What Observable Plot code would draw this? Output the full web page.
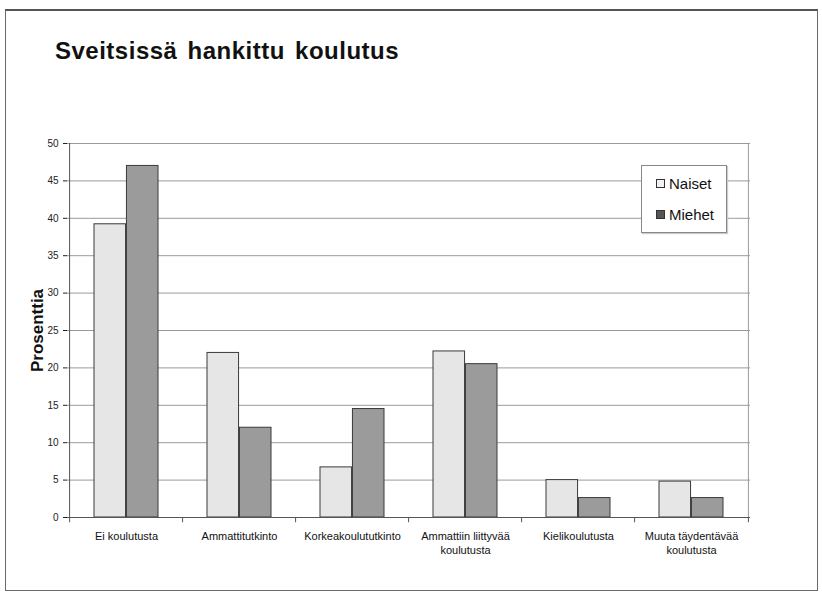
<!DOCTYPE html>
<html>
<head>
<meta charset="utf-8">
<script src="https://cdn.jsdelivr.net/npm/d3@7"></script>
<script src="https://cdn.jsdelivr.net/npm/@observablehq/plot@0.6"></script>
<style>
  body { margin: 0; background: #fff; font-family: "Liberation Sans", Arial, Helvetica, sans-serif; }
  #wrap { position: relative; width: 822px; height: 594px; overflow: hidden; }
  #chart { position: absolute; left: 0; top: 0; }
  #frame { position: absolute; left: 5px; top: 9px; width: 813px; height: 582px; border: 1px solid #6a6a6a; border-top: 2px solid #555; box-sizing: border-box; pointer-events: none; }
  #title { position: absolute; left: 55px; top: 37px; font-size: 24px; font-weight: bold; color: #111; letter-spacing: 0.5px; word-spacing: 3px; white-space: nowrap; }
  #legend { position: absolute; left: 641px; top: 165px; width: 86px; height: 68px; box-sizing: border-box; border: 1px solid #888; background: #fff; box-shadow: 1px 1px 1px #ccc; font-size: 15px; color: #111; }
  .item { position: absolute; left: 14px; display: flex; align-items: center; line-height: 1; }
  .sw { width: 9px; height: 9px; border: 1px solid #333; margin-right: 4px; box-sizing: border-box; }
</style>
</head>
<body>
<div id="wrap">
  <div id="chart"></div>
  <div id="frame"></div>
  <div id="title"></div>
  <div id="legend"></div>
</div>
<script>
// ---- Data ----
const title = "Sveitsissä hankittu koulutus";
const yLabel = "Prosenttia";
const categories = ["Ei koulutusta", "Ammattitutkinto", "Korkeakoulututkinto", "Ammattiin liittyvää koulutusta", "Kielikoulutusta", "Muuta täydentävää koulutusta"];
const categoryLabels = ["Ei koulutusta", "Ammattitutkinto", "Korkeakoulututkinto", "Ammattiin liittyvää\nkoulutusta", "Kielikoulutusta", "Muuta täydentävää\nkoulutusta"];
const seriesNames = ["Naiset", "Miehet"];
const naiset = [39.2, 22.0, 6.7, 22.2, 5.0, 4.8];
const miehet = [47.0, 12.0, 14.5, 20.5, 2.6, 2.6];
const yTicks = [0, 5, 10, 15, 20, 25, 30, 35, 40, 45, 50];
const colors = ["#e6e6e6", "#9b9b9b"];

// ---- Layout ----
const W = 822, H = 594;
const mL = 67, mR = 72, mT = 143, mB = 77;
const padInner = 0.43, padOuter = 0.215;
const step = (W - mL - mR) / (categories.length - padInner + 2 * padOuter);
const bw = step * (1 - padInner);

const rowsN = categories.map((c, i) => ({category: c, value: naiset[i]}));
const rowsM = categories.map((c, i) => ({category: c, value: miehet[i]}));

document.getElementById("title").textContent = title;

const chart = Plot.plot({
  width: W,
  height: H,
  marginLeft: mL,
  marginRight: mR,
  marginTop: mT,
  marginBottom: mB,
  style: {fontFamily: "'Liberation Sans', Arial, sans-serif", fontSize: "10px", color: "#222", background: "transparent"},
  x: {type: "band", domain: categories, paddingInner: padInner, paddingOuter: padOuter, axis: null},
  y: {domain: [0, 50], ticks: yTicks, tickFormat: d => String(d), tickSize: 4, tickPadding: 5, label: null},
  marks: [
    Plot.ruleY(yTicks.filter(d => d > 0), {stroke: "#9a9a9a", strokeWidth: 1}),
    Plot.ruleX([categories[categories.length - 1]], {x: d => d, dx: step / 2, y1: 0, y2: 50, stroke: "#9a9a9a"}),
    Plot.barY(rowsN, {x: "category", y: "value", fill: colors[0], stroke: "#3a3a3a", strokeWidth: 1, insetRight: bw / 2}),
    Plot.barY(rowsM, {x: "category", y: "value", fill: colors[1], stroke: "#3a3a3a", strokeWidth: 1, insetLeft: bw / 2}),
    Plot.ruleX(categories, {x: d => d, dx: -step / 2, y1: 0, y2: -0.7, stroke: "#555"}),
    Plot.ruleX([categories[categories.length - 1]], {x: d => d, dx: step / 2, y1: 0, y2: -0.7, stroke: "#555"}),
    Plot.ruleX([categories[0]], {x: d => d, dx: -step / 2, y1: 0, y2: 50, stroke: "#555"}),
    Plot.ruleY([0], {stroke: "#555"}),
    Plot.text(categories, {x: d => d, y: () => 0, text: (d, i) => categoryLabels[i], lineAnchor: "top", dy: 13, fontSize: 11, lineHeight: 1.25, fill: "#111"}),
    Plot.text([yLabel], {frameAnchor: "left", y: () => 25, dx: -30, rotate: -90, textAnchor: "middle", fontSize: 17, fontWeight: "bold", fill: "#111"})
  ]
});
document.getElementById("chart").appendChild(chart);

// ---- Legend ----
const legend = document.getElementById("legend");
seriesNames.forEach((name, i) => {
  const item = document.createElement("div");
  item.className = "item";
  item.style.top = (i === 0 ? 10 : 41) + "px";
  const sw = document.createElement("span");
  sw.className = "sw";
  sw.style.background = i === 0 ? "#f2f2f2" : "#555";
  const t = document.createElement("span");
  t.textContent = name;
  item.appendChild(sw);
  item.appendChild(t);
  legend.appendChild(item);
});
</script>
</body>
</html>
